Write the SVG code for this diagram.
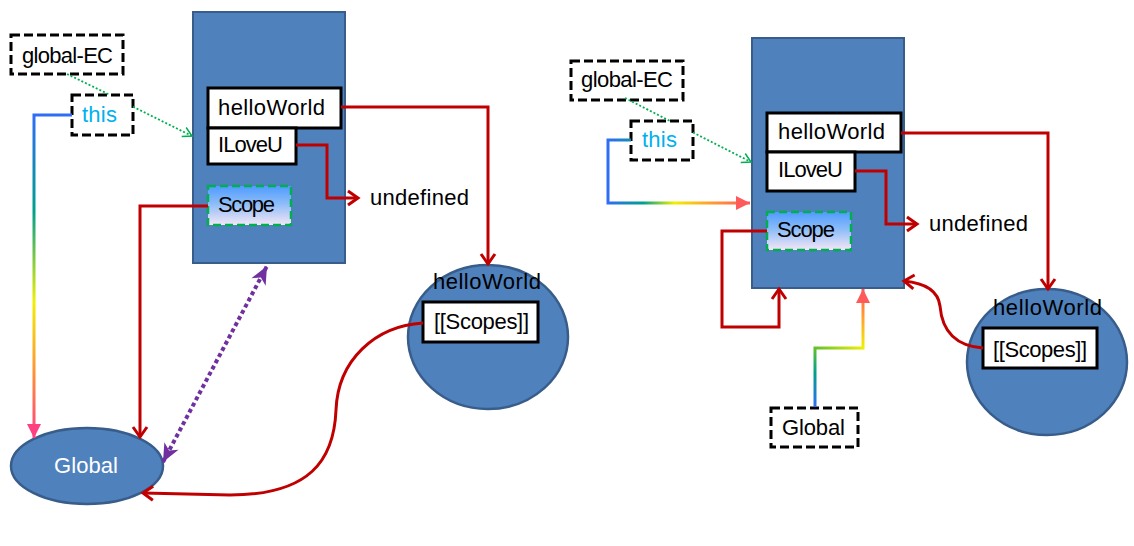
<svg xmlns="http://www.w3.org/2000/svg" width="1134" height="546" viewBox="0 0 1134 546">
<style>
  text { font-family: "Liberation Sans", Arial, sans-serif; font-size: 22px; fill: #000; }
  .frame { fill: #4f81bd; stroke: #385d8a; stroke-width: 2; }
  .ell { fill: #4f81bd; stroke: #385d8a; stroke-width: 2.5; }
  .box { fill: #fff; stroke: #000; stroke-width: 3; }
  .dash { fill: #fff; stroke: #000; stroke-width: 3; stroke-dasharray: 9 4; }
  .scope { fill: url(#scopeFill); stroke: #00b050; stroke-width: 2.5; stroke-dasharray: 8 4; }
  .red { fill: none; stroke: #c00000; stroke-width: 3; marker-end: url(#redArrow); }
  .green { fill: none; stroke: #00b050; stroke-width: 1.8; stroke-dasharray: 2 2; }
  .purple { fill: none; stroke: #7030a0; stroke-width: 4; stroke-dasharray: 4 3; marker-start: url(#purpleArrow); marker-end: url(#purpleArrow); }
  .this { fill: #00b0f0; }
  .white { fill: #fff; }
</style>
<defs>
  <linearGradient id="scopeFill" x1="0" y1="0" x2="0" y2="1">
    <stop offset="0" stop-color="#4f9bff"/>
    <stop offset="0.45" stop-color="#8cbcf8"/>
    <stop offset="1" stop-color="#f4e6f6"/>
  </linearGradient>
  <linearGradient id="gradL" gradientUnits="userSpaceOnUse" x1="0" y1="115" x2="0" y2="437">
    <stop offset="0" stop-color="#2f6df6"/>
    <stop offset="0.3" stop-color="#00a08c"/>
    <stop offset="0.58" stop-color="#f0f000"/>
    <stop offset="0.78" stop-color="#ff9a30"/>
    <stop offset="1" stop-color="#ff4080"/>
  </linearGradient>
  <linearGradient id="gradR1" gradientUnits="userSpaceOnUse" x1="608" y1="0" x2="749" y2="0">
    <stop offset="0" stop-color="#2f6df6"/>
    <stop offset="0.25" stop-color="#00a08c"/>
    <stop offset="0.47" stop-color="#f0f000"/>
    <stop offset="0.72" stop-color="#ffa030"/>
    <stop offset="1" stop-color="#ff5a5a"/>
  </linearGradient>
  <linearGradient id="gradR2" gradientUnits="userSpaceOnUse" x1="815" y1="407" x2="863" y2="290">
    <stop offset="0" stop-color="#2f6df6"/>
    <stop offset="0.25" stop-color="#00a08c"/>
    <stop offset="0.43" stop-color="#60c030"/>
    <stop offset="0.58" stop-color="#f0f000"/>
    <stop offset="0.8" stop-color="#ffa030"/>
    <stop offset="1" stop-color="#ff5a50"/>
  </linearGradient>
  <marker id="redArrow" markerUnits="userSpaceOnUse" markerWidth="14" markerHeight="16" viewBox="0 0 14 16" refX="12" refY="8" orient="auto" overflow="visible">
    <path d="M2,1 L12,8 L2,15" fill="none" stroke="#c00000" stroke-width="3"/>
  </marker>
  <marker id="greenArrow" markerUnits="userSpaceOnUse" markerWidth="12" markerHeight="12" viewBox="0 0 12 12" refX="11" refY="6" orient="auto" overflow="visible">
    <path d="M2,1 L11,6 L2,11" fill="none" stroke="#00b050" stroke-width="1.5"/>
  </marker>
  <marker id="pinkArrow" markerUnits="userSpaceOnUse" markerWidth="15" markerHeight="15" viewBox="0 0 15 15" refX="14" refY="7.5" orient="auto" overflow="visible">
    <path d="M0,0.5 L14,7.5 L0,14.5 z" fill="#ff4080"/>
  </marker>
  <marker id="salmonArrow" markerUnits="userSpaceOnUse" markerWidth="15" markerHeight="15" viewBox="0 0 15 15" refX="14" refY="7.5" orient="auto" overflow="visible">
    <path d="M0,0.5 L14,7.5 L0,14.5 z" fill="#ff5a5a"/>
  </marker>
  <marker id="purpleArrow" markerUnits="userSpaceOnUse" markerWidth="19" markerHeight="16" viewBox="0 0 19 16" refX="18" refY="8" orient="auto-start-reverse" overflow="visible">
    <path d="M0,0 L18,8 L0,16 L5,8 z" fill="#7030a0"/>
  </marker>
</defs>

<!-- Left diagram nodes -->
<g id="left-global-ec"><rect class="dash" x="11" y="35" width="112" height="39"/><text x="22" y="63" textLength="91">global-EC</text></g>
<g id="left-this"><rect class="dash" x="72" y="95" width="61" height="40"/><text class="this" x="82" y="122" textLength="35">this</text></g>
<g id="left-ec">
  <rect class="frame" x="193" y="12" width="152" height="251"/>
</g>
<g id="left-helloWorld-var"><rect class="box" x="208" y="88" width="133" height="40"/><text x="218" y="115" textLength="107">helloWorld</text></g>
<g id="left-ILoveU"><rect class="box" x="208" y="128" width="88" height="36"/><text x="218" y="152" textLength="65">ILoveU</text></g>
<g id="left-scope"><rect class="scope" x="208" y="186" width="83" height="39"/><text x="218" y="212" textLength="57">Scope</text></g>
<g id="left-undefined"><text x="370" y="205" textLength="99">undefined</text></g>
<g id="left-helloWorld-fn">
  <ellipse class="ell" cx="488" cy="337" rx="80" ry="72"/>
  <text x="433" y="289" textLength="108">helloWorld</text>
</g>
<g id="left-scopes"><rect class="box" x="423" y="302" width="115" height="40"/><text x="434" y="329" textLength="95">[[Scopes]]</text></g>
<g id="left-global">
  <ellipse class="ell" cx="87" cy="466" rx="76" ry="38"/>
  <text class="white" x="54" y="473" textLength="64">Global</text>
</g>

<!-- Right diagram nodes -->
<g id="right-global-ec"><rect class="dash" x="571" y="61" width="112" height="39"/><text x="581" y="87" textLength="92">global-EC</text></g>
<g id="right-this"><rect class="dash" x="631" y="121" width="62" height="39"/><text class="this" x="642" y="147" textLength="35">this</text></g>
<g id="right-ec">
  <rect class="frame" x="752" y="38" width="152" height="250"/>
</g>
<g id="right-helloWorld-var"><rect class="box" x="767" y="113" width="134" height="39"/><text x="778" y="139" textLength="107">helloWorld</text></g>
<g id="right-ILoveU"><rect class="box" x="767" y="152" width="88" height="39"/><text x="778" y="177" textLength="65">ILoveU</text></g>
<g id="right-scope"><rect class="scope" x="767" y="212" width="84" height="38"/><text x="777" y="237" textLength="58">Scope</text></g>
<g id="right-undefined"><text x="929" y="231" textLength="99">undefined</text></g>
<g id="right-helloWorld-fn">
  <ellipse class="ell" cx="1047" cy="362" rx="80" ry="73"/>
  <text x="993" y="315" textLength="109">helloWorld</text>
</g>
<g id="right-scopes"><rect class="box" x="983" y="328" width="114" height="40"/><text x="993" y="357" textLength="94">[[Scopes]]</text></g>
<g id="right-global"><rect class="dash" x="771" y="408" width="87" height="39"/><text x="782" y="435" textLength="63">Global</text></g>

<!-- Connectors -->
<g id="connectors">
  <!-- left -->
  <path class="green" d="M67,74 L110,95"/>
  <path class="green" d="M133,106.7 L192,136" marker-end="url(#greenArrow)"/>
  <path d="M72,115 L34,115 L34,438" fill="none" stroke="url(#gradL)" stroke-width="3" marker-end="url(#pinkArrow)"/>
  <path class="red" d="M208,206 L140,206 L140,437"/>
  <path class="red" d="M341,107 L488,107 L488,264"/>
  <path class="red" d="M296,145 L327,145 L327,198 L358,198"/>
  <path class="red" d="M423,323 C375,326 338,360 336,410 C334,460 310,495 230,495 L143,493"/>
  <path class="purple" d="M163,462 L267,266"/>
  <!-- right -->
  <path class="green" d="M625,98 L670,121"/>
  <path class="green" d="M693,132.5 L751,162" marker-end="url(#greenArrow)"/>
  <path d="M631,140 L608,140 L608,203 L750,203" fill="none" stroke="url(#gradR1)" stroke-width="3" marker-end="url(#salmonArrow)"/>
  <path d="M815,407 L815,348 L863,348 L863,289" fill="none" stroke="url(#gradR2)" stroke-width="3" marker-end="url(#salmonArrow)"/>
  <path class="red" d="M767,231 L722,231 L722,327 L779,327 L779,289"/>
  <path class="red" d="M901,133 L1048,133 L1048,289"/>
  <path class="red" d="M855,171 L886,171 L886,224 L917,224"/>
  <path class="red" d="M983,348 C955,346 942,330 940,306 C938,290 925,283 904,281"/>
</g>
</svg>
